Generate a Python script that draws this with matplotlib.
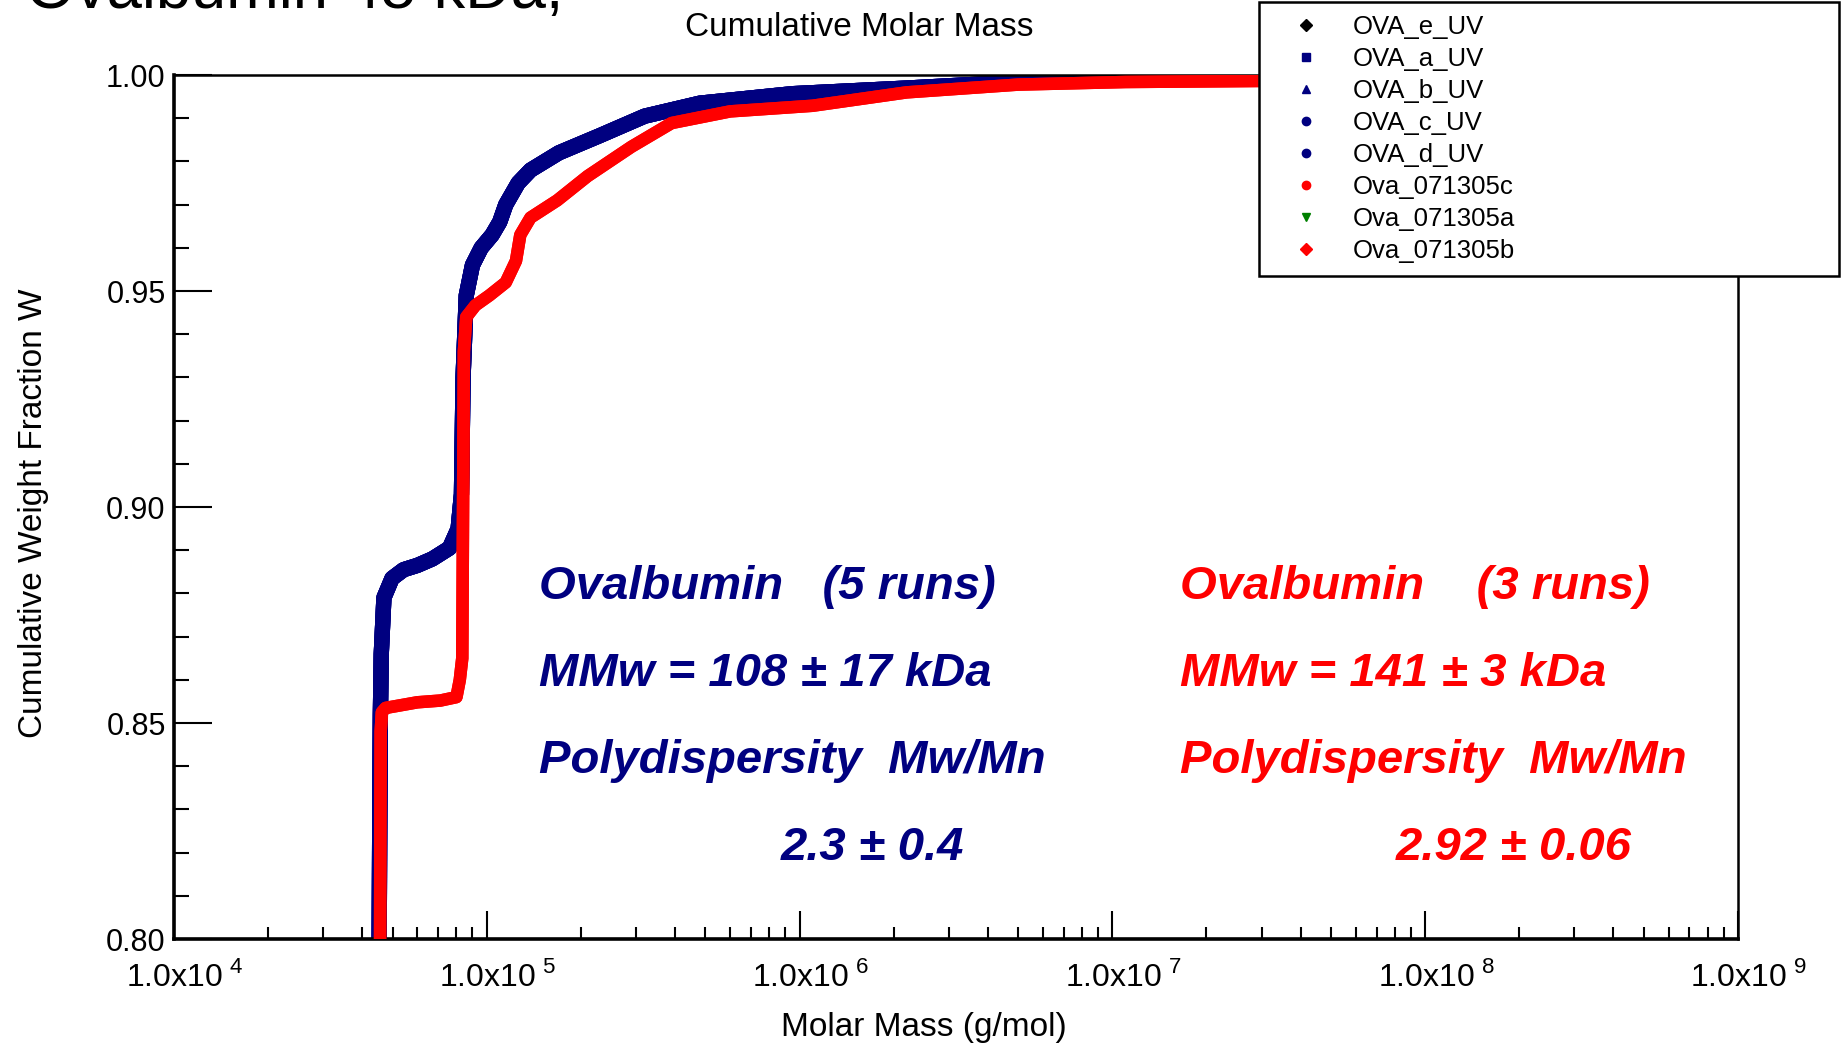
import matplotlib
matplotlib.use('Agg')
import matplotlib.pyplot as plt
from matplotlib.lines import Line2D
from matplotlib.transforms import ScaledTranslation
from matplotlib.ticker import LogLocator, MultipleLocator, FixedLocator, NullFormatter

plt.rcParams['font.family'] = ['Liberation Sans', 'DejaVu Sans']
plt.rcParams['mathtext.fontset'] = 'custom'
plt.rcParams['mathtext.rm'] = 'Liberation Sans'

NAVY = '#000080'
RED = '#ff0000'
GREEN = '#008000'

# UV runs (OVA_a..e) - cumulative weight fraction vs molar mass
uv_mass = [45300, 45500, 45700, 46000, 46900, 49800, 54200, 60000, 67000, 76000,
           81000, 83000, 84000, 86000, 90000, 96000, 104000, 110000, 115000, 126000,
           138000, 170000, 230000, 320000, 480000, 950000, 2200000, 5000000,
           11000000, 26000000, 1.0e9]
uv_frac = [0.800, 0.830, 0.852, 0.866, 0.879, 0.8835, 0.8855, 0.8865, 0.8880, 0.8905,
           0.8950, 0.9030, 0.9300, 0.9490, 0.9560, 0.9600, 0.9630, 0.9660, 0.9700,
           0.9750, 0.9780, 0.9820, 0.9860, 0.9905, 0.9935, 0.9957, 0.9970, 0.9984,
           0.9989, 0.9995, 0.9997]

# RI runs (Ova_071305a..c)
ri_mass = [45600, 45700, 45800, 46200, 47500, 52000, 60000, 71000, 80000, 82000,
           83500, 84500, 86000, 92000, 102000, 115000, 124000, 128000, 138000,
           168000, 210000, 290000, 390000, 600000, 1100000, 2200000, 5000000,
           11000000, 1.0e9]
ri_frac = [0.800, 0.830, 0.848, 0.8525, 0.8535, 0.8540, 0.8548, 0.8552, 0.8560, 0.8600,
           0.8650, 0.9360, 0.9440, 0.9467, 0.9490, 0.9520, 0.9570, 0.9630, 0.9670,
           0.9710, 0.9766, 0.9834, 0.9889, 0.9916, 0.9929, 0.9960, 0.9978, 0.9984,
           0.9995]

uv_runs = ['OVA_e_UV', 'OVA_a_UV', 'OVA_b_UV', 'OVA_c_UV', 'OVA_d_UV']
uv_colors = ['black', NAVY, NAVY, NAVY, NAVY]
uv_markers = ['D', 's', '^', 'o', 'o']
ri_runs = ['Ova_071305c', 'Ova_071305a', 'Ova_071305b']
ri_colors = [RED, GREEN, RED]
ri_markers = ['o', 'v', 'D']

xticks = [1e4, 1e5, 1e6, 1e7, 1e8, 1e9]
xtick_labels = ['1.0x10$^{\\ 4}$', '1.0x10$^{\\ 5}$', '1.0x10$^{\\ 6}$',
                '1.0x10$^{\\ 7}$', '1.0x10$^{\\ 8}$', '1.0x10$^{\\ 9}$']

fig = plt.figure(figsize=(18.41, 10.43), dpi=100)
ax = fig.add_axes([0.0945, 0.0997, 0.8495, 0.8283])

for i, name in enumerate(uv_runs):
    lw = 11 if i > 0 else 7
    ax.plot(uv_mass, uv_frac, color=uv_colors[i] if i == 0 else NAVY, lw=lw,
            solid_capstyle='round', solid_joinstyle='round', zorder=2)
for i, name in enumerate(ri_runs):
    lw = 9 if ri_colors[i] == RED else 6
    ax.plot(ri_mass, ri_frac, color=ri_colors[i], lw=lw,
            solid_capstyle='round', solid_joinstyle='round', zorder=3)

ax.set_xscale('log')
ax.set_xlim(1e4, 1e9)
ax.set_ylim(0.80, 1.00)

ax.xaxis.set_major_locator(FixedLocator(xticks))
ax.set_xticklabels(xtick_labels)
ax.xaxis.set_minor_locator(LogLocator(base=10, subs=range(2, 10), numticks=20))
ax.xaxis.set_minor_formatter(NullFormatter())
ax.yaxis.set_major_locator(MultipleLocator(0.05))
ax.yaxis.set_minor_locator(MultipleLocator(0.01))
ax.yaxis.set_major_formatter(plt.FormatStrFormatter('%.2f'))

ax.tick_params(axis='x', which='major', direction='in', length=20, width=1.5,
               labelsize=23, pad=16, top=False)
ax.tick_params(axis='x', which='minor', direction='in', length=9, width=1.5, top=False)
ax.tick_params(axis='y', which='major', direction='in', length=27, width=1.5,
               labelsize=22, pad=6, right=False)
ax.tick_params(axis='y', which='minor', direction='in', length=11, width=1.5, right=False)

# labels sit a little right of their ticks in the original
shift = ScaledTranslation(0.11, 0, fig.dpi_scale_trans)
for lbl in ax.get_xticklabels():
    lbl.set_transform(lbl.get_transform() + shift)

for s in ['left', 'bottom']:
    ax.spines[s].set_linewidth(2.6)
for s in ['top', 'right']:
    ax.spines[s].set_linewidth(1.8)

fig.text(0.467, 0.974, 'Cumulative Molar Mass', ha='center', va='center', fontsize=24)
fig.text(0.502, 0.015, 'Molar Mass (g/mol)', ha='center', va='center', fontsize=24)
fig.text(0.018, 0.508, 'Cumulative Weight Fraction W', ha='center', va='center',
         rotation=90, fontsize=24)
fig.text(0.014, 0.992, 'Ovalbumin 45 kDa,', ha='left', va='baseline', fontsize=45.5)

blue_lines = ['Ovalbumin   (5 runs)', 'MMw = 108 \u00b1 17 kDa', 'Polydispersity  Mw/Mn']
red_lines = ['Ovalbumin    (3 runs)', 'MMw = 141 \u00b1 3 kDa', 'Polydispersity  Mw/Mn']
ys = [0.437, 0.354, 0.270]
for y, tb, tr in zip(ys, blue_lines, red_lines):
    fig.text(0.293, y, tb, color=NAVY, fontsize=34, fontweight='bold', style='italic',
             va='center')
    fig.text(0.641, y, tr, color=RED, fontsize=34, fontweight='bold', style='italic',
             va='center')
fig.text(0.424, 0.187, '2.3 \u00b1 0.4', color=NAVY, fontsize=34, fontweight='bold',
         style='italic', va='center')
fig.text(0.758, 0.187, '2.92 \u00b1 0.06', color=RED, fontsize=34, fontweight='bold',
         style='italic', va='center')

handles = []
for name, c, m in zip(uv_runs, uv_colors, uv_markers):
    handles.append(Line2D([], [], ls='none', marker=m, color=c, markersize=6, label=name))
for name, c, m in zip(ri_runs, ri_colors, ri_markers):
    handles.append(Line2D([], [], ls='none', marker=m, color=c, markersize=6, label=name))
leg = fig.legend(handles=handles, loc='upper left', mode='expand',
                 bbox_to_anchor=(0.684, 0.0, 0.315, 0.998), fontsize=18.5,
                 frameon=True, fancybox=False, framealpha=1, edgecolor='black',
                 borderpad=0.5, labelspacing=0.31, handletextpad=0.46,
                 borderaxespad=0, handlelength=2.66)
leg.get_frame().set_linewidth(1.8)

fig.savefig('out.png', dpi=100)
